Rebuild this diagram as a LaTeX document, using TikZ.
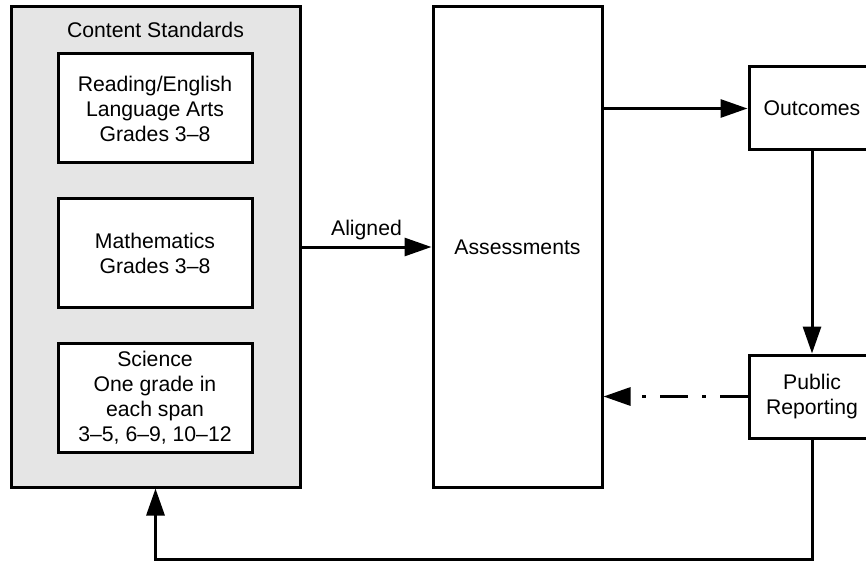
\documentclass[tikz,border=0pt]{standalone}
\usepackage{fontspec}
\setmainfont{Liberation Sans}
\usetikzlibrary{arrows.meta}
\tikzset{
  box/.style={draw, line width=3pt, align=center, inner sep=0pt},
  link/.style={line width=3pt, -{Triangle[length=27pt,width=18pt]}}
}
\begin{document}
\begin{tikzpicture}[x=1pt,y=-1pt,font=\fontsize{21.2}{25}\selectfont]
\useasboundingbox (0,0) rectangle (866,561);
\node[box, fill=black!10, minimum width=289pt, minimum height=480pt] (standards) at (155.5,247) {};
\node (title) at (155.5,30) {Content Standards};
\node[box, fill=white, minimum width=194pt, minimum height=109pt] (reading) at (155,108.5) {Reading/English\\Language Arts\\Grades 3--8};
\node[box, fill=white, minimum width=194pt, minimum height=108pt] (math) at (155,253) {Mathematics\\Grades 3--8};
\node[box, fill=white, minimum width=194pt, minimum height=109pt] (science) at (155,397.5) {Science\\One grade in\\each span\\3--5, 6--9, 10--12};
\node[box, minimum width=169pt, minimum height=480pt] (assess) at (517.5,247) {Assessments};
\node[box, minimum width=126pt, minimum height=83pt] (outcomes) at (812,108.5) {Outcomes};
\node[box, minimum width=126pt, minimum height=83pt] (report) at (812,396.5) {Public\\Reporting};
\draw[link] (standards.east) -- node[above=2pt] {Aligned} (assess.west);
\draw[link] (outcomes.west -| assess.east) -- (outcomes.west);
\draw[link] (outcomes.south) -- (report.north);
\draw[link, dash pattern=on 28pt off 14pt on 4pt off 14pt] (report.west) -- (report.west -| assess.east);
\draw[link] (report.south) -- ++(0,120) -| (standards.south);
\end{tikzpicture}
\end{document}
